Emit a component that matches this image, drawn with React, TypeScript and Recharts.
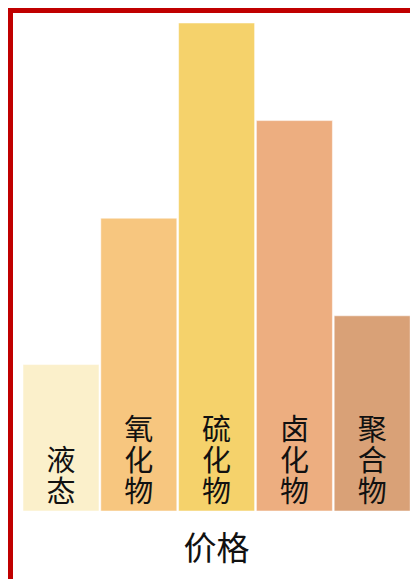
import { BarChart, Bar, XAxis, YAxis, Cell, LabelList, Label } from "recharts";

const categories = ["液态", "氧化物", "硫化物", "卤化物", "聚合物"];
const prices = [30, 60, 100, 80, 40];
const barColors = ["#FBF0CB", "#F7C67F", "#F5D26B", "#EDAE80", "#D9A177"];
const axisTitle = "价格";

const data = categories.map((name, i) => ({ name, price: prices[i] }));

const cjkFont = '"Noto Sans CJK SC", sans-serif';

// stacks the category name vertically, bottom-aligned inside its bar
function VerticalLabel(props: any) {
  const { x, y, width, height, value } = props;
  const chars = String(value).split("");
  const cx = x + width / 2;
  const step = 31;
  const firstY = y + height - 22 - (chars.length - 1) * step;
  return (
    <text
      x={cx}
      y={firstY}
      textAnchor="middle"
      dominantBaseline="central"
      fontSize={29}
      fontFamily={cjkFont}
      fill="#111"
    >
      {chars.map((ch, i) => (
        <tspan key={i} x={cx} dy={i === 0 ? 0 : step}>
          {ch}
        </tspan>
      ))}
    </text>
  );
}

export default function App() {
  return (
    <div
      style={{
        position: "relative",
        width: 410,
        height: 571,
        boxSizing: "border-box",
        borderTop: "5px solid #C00000",
        borderLeft: "5px solid #C00000",
        background: "#fff",
      }}
    >
      <BarChart
        width={400}
        height={560}
        data={data}
        margin={{ top: 10, right: 2, left: 9, bottom: 0 }}
        barCategoryGap={1}
      >
        <YAxis hide domain={[0, 100]} />
        <XAxis dataKey="name" tick={false} axisLine={false} tickLine={false} height={62}>
          <Label
            value={axisTitle}
            position="center"
            dy={6}
            fontSize={33}
            fontFamily={cjkFont}
            fill="#111"
          />
        </XAxis>
        <Bar dataKey="price" isAnimationActive={false} stroke="#ffffff" strokeOpacity={0.5} strokeWidth={1}>
          {data.map((d, i) => (
            <Cell key={d.name} fill={barColors[i]} />
          ))}
          <LabelList dataKey="name" content={<VerticalLabel />} />
        </Bar>
      </BarChart>
    </div>
  );
}
